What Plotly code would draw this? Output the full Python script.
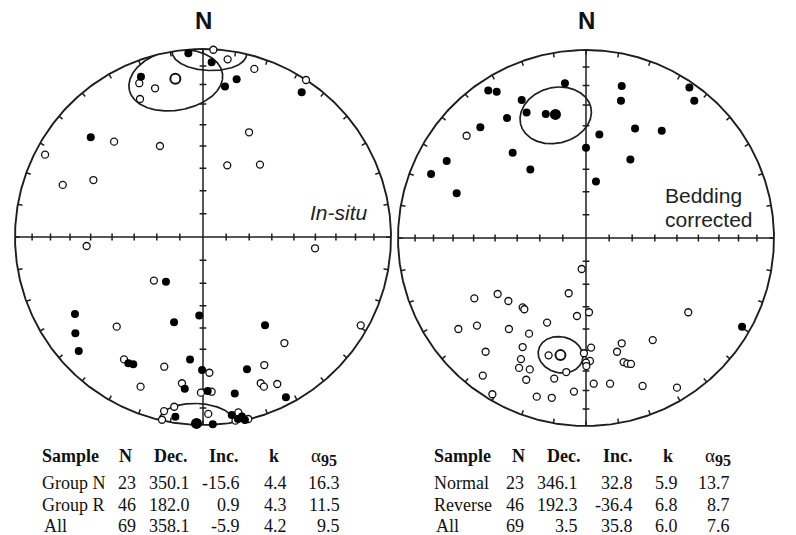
import numpy as np
import plotly.graph_objects as go

# ---------------- data ----------------
# Site-mean directions read from the stereonets, as equal-area (east, north)
# coordinates expressed as fractions of the primitive radius.
# "upper" = upper hemisphere (open symbols), "lower" = lower hemisphere (filled).
insitu_upper_east = [0.055, 0.131, 0.273, 0.548, -0.339, -0.255, -0.335, 0.245, -0.473, -0.229,
                     -0.840, 0.129, 0.303, -0.746, -0.583, -0.619, 0.596, -0.261, -0.459, 0.839,
                     0.433, -0.420, -0.206, 0.326, 0.034, -0.332, -0.112, 0.307, 0.324, 0.395,
                     -0.011, 0.046, -0.153, -0.207, -0.218, 0.028, 0.188, 0.241, 0.173]
insitu_upper_north = [0.996, 0.945, 0.894, 0.835, 0.818, 0.791, 0.734, 0.557, 0.507, 0.484,
                      0.438, 0.381, 0.385, 0.277, 0.303, -0.048, -0.060, -0.232, -0.477, -0.470,
                      -0.564, -0.651, -0.690, -0.681, -0.722, -0.796, -0.778, -0.778, -0.796, -0.782,
                      -0.828, -0.823, -0.903, -0.926, -0.972, -0.941, -0.933, -0.968, -0.977]
insitu_lower_east = [-0.078, 0.046, -0.330, 0.117, 0.179, 0.525, -0.597, -0.197, -0.681, -0.020,
                     -0.154, 0.330, -0.679, -0.661, -0.397, -0.371, -0.069, -0.005, 0.234, -0.097,
                     0.025, 0.169, 0.441, -0.147, 0.052, 0.153, 0.186, 0.207, 0.223]
insitu_lower_north = [0.977, 0.929, 0.853, 0.800, 0.839, 0.770, 0.530, -0.238, -0.410, -0.417,
                      -0.454, -0.470, -0.512, -0.606, -0.672, -0.677, -0.651, -0.707, -0.704, -0.807,
                      -0.819, -0.833, -0.853, -0.956, -0.996, -0.947, -0.968, -0.955, -0.973]

tilt_upper_east = [-0.635, -0.023, -0.594, -0.470, -0.413, -0.092, -0.337, -0.328, 0.016, -0.048,
                   0.544, -0.679, -0.580, -0.410, -0.207, -0.303, 0.355, 0.190, 0.165, 0.027,
                   -0.534, -0.337, -0.346, -0.199, -0.011, 0.021, 0.000, 0.002, 0.200, 0.220,
                   0.239, -0.356, -0.299, -0.105, -0.549, -0.318, -0.169, 0.041, 0.128, 0.301,
                   0.484, -0.498, -0.262, -0.182, -0.064]
tilt_upper_north = [0.544, -0.165, -0.321, -0.298, -0.335, -0.294, -0.369, -0.379, -0.395, -0.415,
                    -0.395, -0.484, -0.466, -0.484, -0.450, -0.509, -0.543, -0.560, -0.605, -0.583,
                    -0.605, -0.580, -0.644, -0.624, -0.613, -0.654, -0.663, -0.681, -0.660, -0.668,
                    -0.670, -0.691, -0.699, -0.713, -0.732, -0.754, -0.748, -0.775, -0.775, -0.787,
                    -0.796, -0.831, -0.844, -0.850, -0.817]
tilt_lower_east = [-0.112, -0.520, -0.475, -0.342, -0.316, -0.214, -0.420, -0.562, 0.190, 0.186,
                   0.550, 0.576, 0.261, 0.403, 0.071, 0.000, -0.390, -0.741, -0.824, -0.296,
                   0.236, 0.053, -0.688, 0.830]
tilt_lower_north = [0.823, 0.784, 0.778, 0.734, 0.667, 0.660, 0.638, 0.589, 0.809, 0.730,
                    0.801, 0.730, 0.583, 0.571, 0.551, 0.480, 0.454, 0.410, 0.340, 0.365,
                    0.418, 0.300, 0.238, -0.472]

# Fisher statistics (tables under the nets)
table_header = ["Sample", "N", "Dec.", "Inc.", "k", "α"]
insitu_names = ["Group N", "Group R", "All"]
insitu_n = [23, 46, 69]
insitu_dec = [350.1, 182.0, 358.1]
insitu_inc = [-15.6, 0.9, -5.9]
insitu_k = [4.4, 4.3, 4.2]
insitu_a95 = [16.3, 11.5, 9.5]

tilt_names = ["Normal", "Reverse", "All"]
tilt_n = [23, 46, 69]
tilt_dec = [346.1, 192.3, 3.5]
tilt_inc = [32.8, -36.4, 35.8]
tilt_k = [5.9, 6.8, 6.0]
tilt_a95 = [13.7, 8.7, 7.6]

panel_titles = ["N", "N"]

# ---------------- geometry helpers ----------------
W, H = 796, 535
R_PX = 188.0
HALF = 1.06
LINE = "#1e1e1e"


def project(dec, inc):
    dec = np.radians(np.asarray(dec, dtype=float))
    inc = np.abs(np.radians(np.asarray(inc, dtype=float)))
    r = np.sqrt(2.0) * np.sin((np.pi / 2 - inc) / 2.0)
    return r * np.sin(dec), r * np.cos(dec)


def cone(dec, inc, a95, n=721):
    d, i, a = np.radians([dec, inc, a95])
    m = np.array([np.cos(i) * np.cos(d), np.cos(i) * np.sin(d), np.sin(i)])
    u = np.array([-np.sin(i) * np.cos(d), -np.sin(i) * np.sin(d), np.cos(i)])
    v = np.array([-np.sin(d), np.cos(d), 0.0])
    phi = np.linspace(0, 2 * np.pi, n)
    p = np.cos(a) * m[:, None] + np.sin(a) * (np.cos(phi) * u[:, None] + np.sin(phi) * v[:, None])
    pdec = np.degrees(np.arctan2(p[1], p[0]))
    pinc = np.degrees(np.arcsin(np.clip(p[2], -1, 1)))
    x, y = project(pdec, pinc)
    keep = pinc * np.sign(inc if inc != 0 else 1) >= 0
    xs = [float(a_) if k else None for a_, k in zip(x, keep)]
    ys = [float(b_) if k else None for b_, k in zip(y, keep)]
    return xs, ys


def domain(cx, cy):
    x0 = (cx - HALF * R_PX) / W
    x1 = (cx + HALF * R_PX) / W
    y0 = 1 - (cy + HALF * R_PX) / H
    y1 = 1 - (cy - HALF * R_PX) / H
    return [x0, x1], [y0, y1]


fig = go.Figure()


def add_panel(xa, ya, up_e, up_n, lo_e, lo_n, mean_dec, mean_inc, cones):
    common = dict(xaxis=xa, yaxis=ya, hoverinfo="skip", showlegend=False)
    t = np.linspace(0, 2 * np.pi, 721)
    fig.add_trace(go.Scatter(x=np.sin(t), y=np.cos(t), mode="lines",
                             line=dict(color=LINE, width=1.9), **common))
    # circumference ticks every 10 degrees
    tx, ty = [], []
    for az in range(0, 360, 10):
        s, c = np.sin(np.radians(az)), np.cos(np.radians(az))
        tx += [s, 0.975 * s, None]
        ty += [c, 0.975 * c, None]
    # cross axes
    tx += [-1, 1, None, 0, 0, None]
    ty += [0, 0, None, -1, 1, None]
    # inclination ticks along the axes (equal-area spacing, every 10 degrees)
    h = 0.018
    for inc in range(10, 90, 10):
        r = float(np.sqrt(2.0) * np.sin(np.radians(90 - inc) / 2.0))
        for sgn in (-1, 1):
            tx += [sgn * r, sgn * r, None, -h, h, None]
            ty += [-h, h, None, sgn * r, sgn * r, None]
    fig.add_trace(go.Scatter(x=tx, y=ty, mode="lines", line=dict(color=LINE, width=1.5), **common))
    # confidence cones
    for (d, i, a) in cones:
        cx, cy = cone(d, i, a)
        fig.add_trace(go.Scatter(x=cx, y=cy, mode="lines", connectgaps=False,
                                 line=dict(color=LINE, width=1.7), **common))
    # site directions
    fig.add_trace(go.Scatter(x=up_e, y=up_n, mode="markers",
                             marker=dict(size=7, color="white", line=dict(color="#111", width=1.3)),
                             **common))
    fig.add_trace(go.Scatter(x=lo_e, y=lo_n, mode="markers",
                             marker=dict(size=8, color="#000", line=dict(width=0)), **common))
    # group means (first two rows of the table)
    for d, i in zip(mean_dec[:2], mean_inc[:2]):
        mx, my = project([d], [i])
        if i > 0:
            mk = dict(size=11, color="#000", line=dict(width=0))
        else:
            mk = dict(size=10, color="white", line=dict(color="#111", width=2))
        fig.add_trace(go.Scatter(x=mx, y=my, mode="markers", marker=mk, **common))


add_panel("x", "y", insitu_upper_east, insitu_upper_north, insitu_lower_east, insitu_lower_north,
          insitu_dec, insitu_inc,
          [(insitu_dec[0], insitu_inc[0], insitu_a95[0]),
           (insitu_dec[1], insitu_inc[1], insitu_a95[1]),
           ((insitu_dec[1] + 180) % 360, -insitu_inc[1], insitu_a95[1])])
add_panel("x2", "y2", tilt_upper_east, tilt_upper_north, tilt_lower_east, tilt_lower_north,
          tilt_dec, tilt_inc,
          [(tilt_dec[0], tilt_inc[0], tilt_a95[0]),
           (tilt_dec[1], tilt_inc[1], tilt_a95[1])])

dxl, dyl = domain(203, 237)
dxr, dyr = domain(586, 238)
ax = dict(visible=False, range=[-HALF, HALF], fixedrange=True, showgrid=False, zeroline=False)
fig.update_layout(
    width=W, height=H, margin=dict(l=0, r=0, t=0, b=0),
    paper_bgcolor="white", plot_bgcolor="rgba(0,0,0,0)",
    xaxis=dict(ax, domain=dxl), yaxis=dict(ax, domain=dyl),
    xaxis2=dict(ax, domain=dxr), yaxis2=dict(ax, domain=dyr),
)

SANS = "Liberation Sans, Arial, sans-serif"
SERIF = "Liberation Serif, Times New Roman, serif"
anns = []


def ann(text, px, py, xanchor="center", size=18, family=SERIF, color="#111"):
    anns.append(dict(text=text, x=px / W, y=1 - py / H, xref="paper", yref="paper",
                     xanchor=xanchor, yanchor="middle", showarrow=False,
                     font=dict(size=size, family=family, color=color)))


ann("<b>%s</b>" % panel_titles[0], 203, 20, size=24, family=SANS)
ann("<b>%s</b>" % panel_titles[1], 586, 20, size=24, family=SANS)
ann("<i>In-situ</i>", 370, 212, xanchor="right", size=21, family=SANS, color="#222")
ann("Bedding", 663, 196, xanchor="left", size=21, family=SANS, color="#222")
ann("corrected", 663, 219, xanchor="left", size=21, family=SANS, color="#222")


def table(x_name, hdr_pos, col_right, names, ns, decs, incs, ks, a95s):
    hy = 456
    ann("<b>%s</b>" % table_header[0], x_name, hy, xanchor="left")
    ann("<b>%s</b>" % table_header[1], hdr_pos[0], hy)
    ann("<b>%s</b>" % table_header[2], hdr_pos[1], hy)
    ann("<b>%s</b>" % table_header[3], hdr_pos[2], hy)
    ann("<b>%s</b>" % table_header[4], hdr_pos[3], hy)
    ann("%s<sub><span style='font-size:16px'><b>95</b></span></sub>" % table_header[5],
        hdr_pos[4], hy + 1, xanchor="left", size=19)
    for r, (nm, n, d, i, k, a) in enumerate(zip(names, ns, decs, incs, ks, a95s)):
        y = 483 + r * 21.5
        ann(nm, x_name + (2 if nm == "All" else 0), y, xanchor="left")
        vals = [str(n), "%.1f" % d, "%.1f" % i, "%.1f" % k, "%.1f" % a]
        for v, xr in zip(vals, col_right):
            ann(v, xr, y, xanchor="right")


table(40, [125, 170, 224, 274, 309], [137.5, 192, 241.5, 288.5, 342],
      insitu_names, insitu_n, insitu_dec, insitu_inc, insitu_k, insitu_a95)
table(432, [518.5, 563.5, 618, 668, 703], [526, 579.5, 634.5, 680, 732],
      tilt_names, tilt_n, tilt_dec, tilt_inc, tilt_k, tilt_a95)

fig.update_layout(annotations=anns)
fig.write_html("out.html")
